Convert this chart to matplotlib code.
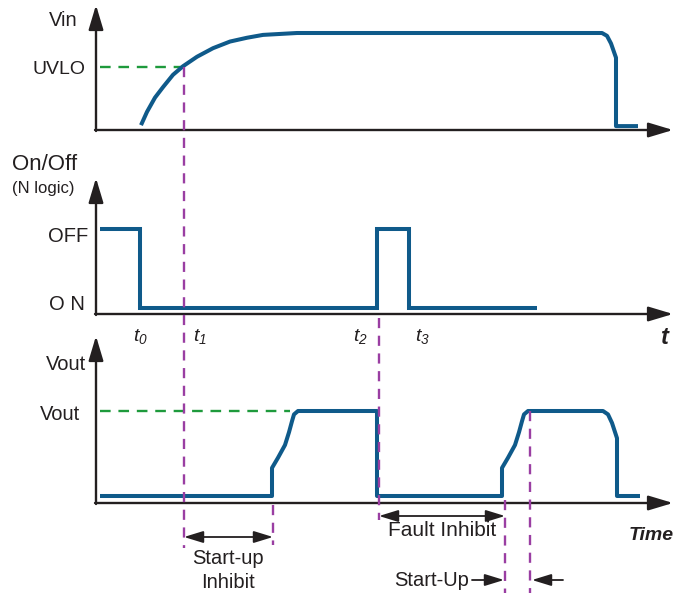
import matplotlib
matplotlib.use('Agg')
import matplotlib.pyplot as plt
from matplotlib import transforms as mtransforms

plt.rcParams['font.family'] = ['Liberation Sans', 'DejaVu Sans']
plt.rcParams['mathtext.fontset'] = 'custom'
plt.rcParams['mathtext.it'] = 'Liberation Sans:italic'
plt.rcParams['mathtext.rm'] = 'Liberation Sans:italic'

# time axis in arbitrary units (0 = vertical axis)
vin_t = [45, 51, 59, 67, 77, 87, 101, 117, 134, 151, 167, 184, 201, 506, 511, 515, 520, 520, 542]
vin_v = [0.03, 0.17, 0.32, 0.43, 0.56, 0.65, 0.75, 0.84, 0.91, 0.95, 0.98, 0.99, 1.0, 1.0, 0.97, 0.89, 0.74,
         0.02, 0.02]
uvlo = 0.64

onoff_t = [4, 44, 44, 281, 281, 313, 313, 441]
onoff_v = [1, 1, 0, 0, 1, 1, 0, 0]   # 1 = OFF, 0 = ON

vout_t = [4, 176, 176, 182, 189, 193, 196, 198, 202, 281, 281, 406, 406, 412, 419, 423, 426, 428, 432,
          507, 512, 516, 521, 521, 544]
vout_v = [0, 0, 0.33, 0.45, 0.6, 0.75, 0.88, 0.96, 1.0, 1.0, 0, 0, 0.33, 0.45, 0.6, 0.75, 0.88, 0.96, 1.0,
          1.0, 0.96, 0.86, 0.68, 0, 0]
vout_nom = 1.0

t_marks = ['t_{0}', 't_{1}', 't_{2}', 't_{3}']
t_mark_pos = [44, 104, 264, 326]
t_uvlo, t_su_end, t_fault, t_retry, t_up = 88, 177, 283, 409, 434

W, H, X0 = 674, 593, 96
BLUE = '#0f5a8a'
INK = '#231f20'
GREEN = '#1e9a3c'
PURPLE = '#9a3ea2'

fig = plt.figure(figsize=(W / 100, H / 100), dpi=100)
ax = fig.add_axes([0, 0, 1, 1])
ax.set_xlim(-X0, W - X0)
ax.set_ylim(H, 0)
ax.axis('off')


def level_tr(zero_px, unit_px):
    return mtransforms.Affine2D().scale(1, -unit_px).translate(0, zero_px) + ax.transData


tr_vin = level_tr(128, 95)
tr_onoff = level_tr(308, 79)
tr_vout = level_tr(496, 85)

# axes with arrows
for base, top in [(130, 5), (314, 178), (503, 336)]:
    ax.annotate('', xy=(0, top), xytext=(0, base + 1),
                arrowprops=dict(arrowstyle='-|>,head_length=1.5,head_width=0.45', mutation_scale=10,
                                lw=1.7, color=INK, shrinkA=0, shrinkB=0))
    ax.annotate('', xy=(W - X0 - 1, base), xytext=(-1, base),
                arrowprops=dict(arrowstyle='-|>,head_length=1.5,head_width=0.45', mutation_scale=10,
                                lw=1.7, color=INK, shrinkA=0, shrinkB=0))

# waveforms
kw = dict(color=BLUE, lw=2.9, solid_joinstyle='round', solid_capstyle='butt', zorder=3)
ax.plot(vin_t, vin_v, transform=tr_vin, **kw)
ax.plot(onoff_t, onoff_v, transform=tr_onoff, **{**kw, 'solid_joinstyle': 'miter'})
ax.plot(vout_t, vout_v, transform=tr_vout, **kw)

# green reference levels
gkw = dict(color=GREEN, lw=1.7, ls=(0, (4.5, 3.3)), zorder=2)
ax.plot([4, t_uvlo], [uvlo, uvlo], transform=tr_vin, **gkw)
ax.plot([4, 194], [vout_nom, vout_nom], transform=tr_vout, **gkw)

# purple event markers
pkw = dict(color=PURPLE, lw=1.7, ls=(0, (4.3, 3.2)), zorder=4)
ax.plot([t_uvlo, t_uvlo], [67, 548], **pkw)
ax.plot([t_su_end, t_su_end], [505, 545], **pkw)
ax.plot([t_fault, t_fault], [318, 520], **pkw)
ax.plot([t_retry, t_retry], [500, 593], **pkw)
ax.plot([t_up, t_up], [411, 593], **pkw)

# dimension arrows
akw = dict(arrowstyle='<|-|>,head_length=1.3,head_width=0.4', mutation_scale=9, lw=1.3,
           color=INK, shrinkA=0, shrinkB=0)
ax.annotate('', xy=(t_uvlo, 537), xytext=(t_su_end, 537), arrowprops=akw)
ax.annotate('', xy=(t_fault, 516), xytext=(t_retry, 516), arrowprops=akw)
skw = dict(arrowstyle='-|>,head_length=1.3,head_width=0.4', mutation_scale=9, lw=1.3,
           color=INK, shrinkA=0, shrinkB=0)
ax.annotate('', xy=(t_retry - 1, 580), xytext=(376, 580), arrowprops=skw)
ax.annotate('', xy=(t_up + 2, 580), xytext=(467, 580), arrowprops=skw)

# labels
tkw = dict(color=INK, fontsize=14.5)
ax.text(78 - X0, 21, 'Vin', ha='right', va='center', **tkw)
ax.text(86 - X0, 69, 'UVLO', ha='right', va='center', color=INK, fontsize=14)
ax.text(12 - X0, 165, 'On/Off', ha='left', va='center', color=INK, fontsize=16)
ax.text(12 - X0, 188, '(N logic)', ha='left', va='center', color=INK, fontsize=12)
ax.text(88 - X0, 236, 'OFF', ha='right', va='center', **tkw)
ax.text(85 - X0, 305, 'O N', ha='right', va='center', **tkw)
ax.text(86 - X0, 365, 'Vout', ha='right', va='center', **tkw)
ax.text(80 - X0, 415, 'Vout', ha='right', va='center', **tkw)
for lab, pos in zip(t_marks, t_mark_pos):
    ax.text(pos, 337, '$' + lab + '$', ha='center', va='center', color=INK, fontsize=14)
ax.text(665 - X0, 337, 't', ha='center', va='center', color=INK, fontsize=17,
        fontweight='bold', fontstyle='italic')
ax.text(228 - X0, 558, 'Start-up', ha='center', va='center', **tkw)
ax.text(228 - X0, 582, 'Inhibit', ha='center', va='center', **tkw)
ax.text(442 - X0, 531, 'Fault Inhibit', ha='center', va='center', color=INK, fontsize=15)
ax.text(432 - X0, 580, 'Start-Up', ha='center', va='center', **tkw)
ax.text(651 - X0, 536, 'Time', ha='center', va='center', color=INK, fontsize=14,
        fontweight='bold', fontstyle='italic')

fig.savefig('out.png', dpi=100)
